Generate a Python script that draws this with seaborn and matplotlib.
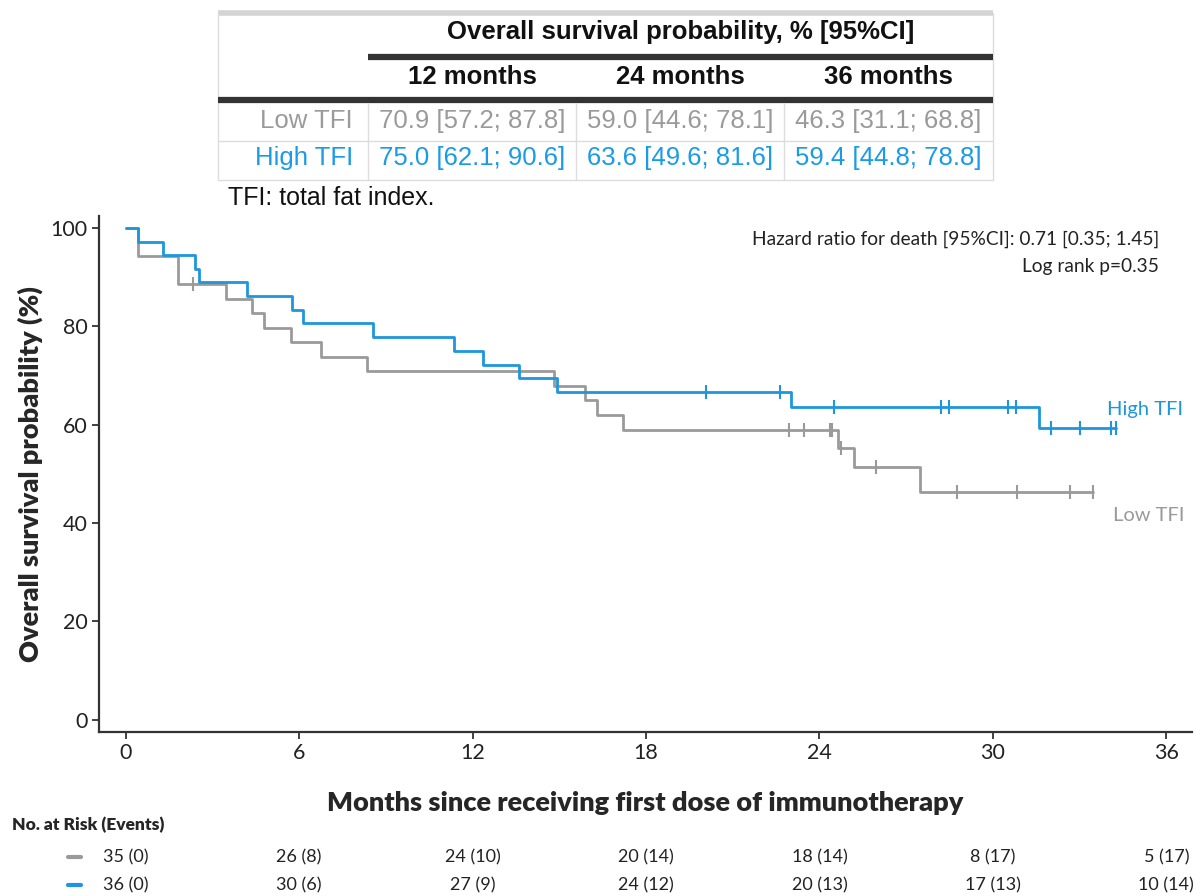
import numpy as np
import matplotlib
matplotlib.use("Agg")
import matplotlib.pyplot as plt
import matplotlib.transforms as mtransforms
import seaborn as sns

# Kaplan-Meier steps (months, survival %)
high_times = [0, 0.44, 1.28, 2.40, 2.55, 4.19, 5.74, 6.15, 8.55, 11.37, 12.37, 13.61, 14.93, 23.01, 31.58]
high_surv = [100, 97.2, 94.4, 91.7, 88.9, 86.1, 83.3, 80.6, 77.8, 75.0, 72.2, 69.4, 66.7, 63.6, 59.4]
high_cens = [20.07, 22.62, 24.51, 28.21, 28.49, 30.52, 30.80, 32.02, 33.0, 34.08, 34.26]

low_times = [0, 0.44, 1.82, 3.47, 4.36, 4.79, 5.72, 6.76, 8.34, 14.83, 15.89, 16.30, 17.22, 24.66, 25.18, 27.48]
low_surv = [100, 94.3, 88.6, 85.6, 82.7, 79.7, 76.8, 73.8, 70.9, 67.9, 65.0, 62.0, 59.0, 55.3, 51.4, 46.3]
low_cens = [2.34, 22.96, 23.48, 24.35, 24.43, 24.74, 25.95, 28.75, 30.83, 32.67, 33.48]

# Table above the plot
tbl_cols = ["12 months", "24 months", "36 months"]
tbl_rows = ["Low TFI", "High TFI"]
tbl_vals = [["70.9 [57.2; 87.8]", "59.0 [44.6; 78.1]", "46.3 [31.1; 68.8]"],
            ["75.0 [62.1; 90.6]", "63.6 [49.6; 81.6]", "59.4 [44.8; 78.8]"]]

# Risk table
risk_months = [0, 6, 12, 18, 24, 30, 36]
risk_low = ["35 (0)", "26 (8)", "24 (10)", "20 (14)", "18 (14)", "8 (17)", "5 (17)"]
risk_high = ["36 (0)", "30 (6)", "27 (9)", "24 (12)", "20 (13)", "17 (13)", "10 (14)"]

BLUE = "#1e96dc"
GRAY = "#9a9a9a"
TBLUE = "#1a9be6"

sns.set_theme(style="ticks")
plt.rcParams["font.family"] = ["Lato", "DejaVu Sans"]

fig = plt.figure(figsize=(12.01, 8.96), dpi=100)
ax = fig.add_axes([0.0827, 0.1834, 0.9096, 0.5755])


def km_line(times, surv, cens, color):
    t = list(times) + [max(cens)]
    s = list(surv) + [surv[-1]]
    sns.lineplot(x=t, y=s, drawstyle="steps-post", estimator=None, sort=False,
                 color=color, linewidth=2.0, ax=ax)
    idx = np.searchsorted(times, cens, side="right") - 1
    ax.plot(cens, np.array(surv)[idx], linestyle="none", marker="|",
            markersize=10, markeredgewidth=1.5, color=color)


km_line(low_times, low_surv, low_cens, GRAY)
km_line(high_times, high_surv, high_cens, BLUE)

ax.set_xlim(-0.91, 36.88)
ax.set_ylim(-2.4, 102.4)
ax.set_xticks(risk_months)
ax.set_yticks([0, 20, 40, 60, 80, 100])
sns.despine(ax=ax)
for sp in ["left", "bottom"]:
    ax.spines[sp].set_color("#333333")
    ax.spines[sp].set_linewidth(1.6)
ax.tick_params(axis="both", labelsize=15.5, length=5, width=1.3, color="#333333", labelcolor="#222222")
ax.set_xlabel("Months since receiving first dose of immunotherapy", fontsize=19.5,
              fontweight="heavy", labelpad=20)
ax.set_ylabel("Overall survival probability (%)", fontsize=19.5, fontweight="heavy", labelpad=5)

ax.text(35.75, 97.7, "Hazard ratio for death [95%CI]: 0.71 [0.35; 1.45]", ha="right", va="center",
        fontsize=13.8, color="#222222")
ax.text(35.75, 92.2, "Log rank p=0.35", ha="right", va="center", fontsize=13.8, color="#222222")
ax.text(33.95, 63.0, "High TFI", color=BLUE, fontsize=14.5, va="center")
ax.text(34.15, 41.6, "Low TFI", color=GRAY, fontsize=14.5, va="center")

# risk table rows under the axis
trans = mtransforms.blended_transform_factory(ax.transData, fig.transFigure)
fig.text(12 / 1201, 1 - 825 / 896, "No. at Risk (Events)", fontsize=12.5, fontweight="heavy", va="center")
for yrow, vals, col in [(857, risk_low, GRAY), (885, risk_high, BLUE)]:
    yf = 1 - yrow / 896
    fig.add_artist(plt.Line2D([68 / 1201, 81 / 1201], [yf, yf], color=col, linewidth=3))
    for m, v in zip(risk_months, vals):
        ax.text(m, yf, v, transform=trans, ha="center", va="center", fontsize=13,
                color="#222222", clip_on=False)

# survival table, drawn in pixel coordinates on an overlay axes
tx = fig.add_axes([0, 0, 1, 1], facecolor="none")
tx.set_xlim(0, 1201)
tx.set_ylim(896, 0)
tx.axis("off")
tfont = ["Liberation Sans", "DejaVu Sans"]
L, R = 218, 993
col_edges = [368, 576, 784, 993]
tx.plot([L, R], [13, 13], color="#d4d4d4", linewidth=4, solid_capstyle="butt")
tx.plot([L, L], [13, 180], color="#dddddd", linewidth=1)
tx.plot([R, R], [13, 180], color="#dddddd", linewidth=1)
tx.plot([368, R], [57, 57], color="#333333", linewidth=4.5, solid_capstyle="butt")
tx.plot([L, R], [100, 100], color="#333333", linewidth=4.5, solid_capstyle="butt")
for yl in [141, 180]:
    tx.plot([L, R], [yl, yl], color="#dddddd", linewidth=1)
for xe in col_edges[:-1]:
    tx.plot([xe, xe], [103, 180], color="#dddddd", linewidth=1)
tx.text((368 + R) / 2, 32, "Overall survival probability, % [95%CI]", ha="center", va="center",
        fontsize=18.5, fontweight="bold", family=tfont, color="#111111")
for i, c in enumerate(tbl_cols):
    tx.text((col_edges[i] + col_edges[i + 1]) / 2, 77, c, ha="center", va="center",
            fontsize=18.5, fontweight="bold", family=tfont, color="#111111")
for r, (lab, vals, col) in enumerate(zip(tbl_rows, tbl_vals, [GRAY, TBLUE])):
    yc = 121 + r * 37
    tx.text(353, yc, lab, ha="right", va="center", fontsize=18.5, family=tfont, color=col)
    for i, v in enumerate(vals):
        tx.text((col_edges[i] + col_edges[i + 1]) / 2, yc, v, ha="center", va="center",
                fontsize=18.5, family=tfont, color=col)
tx.text(228, 198, "TFI: total fat index.", ha="left", va="center", fontsize=18, family=tfont,
        color="#111111")

fig.savefig("out.png", dpi=100)
